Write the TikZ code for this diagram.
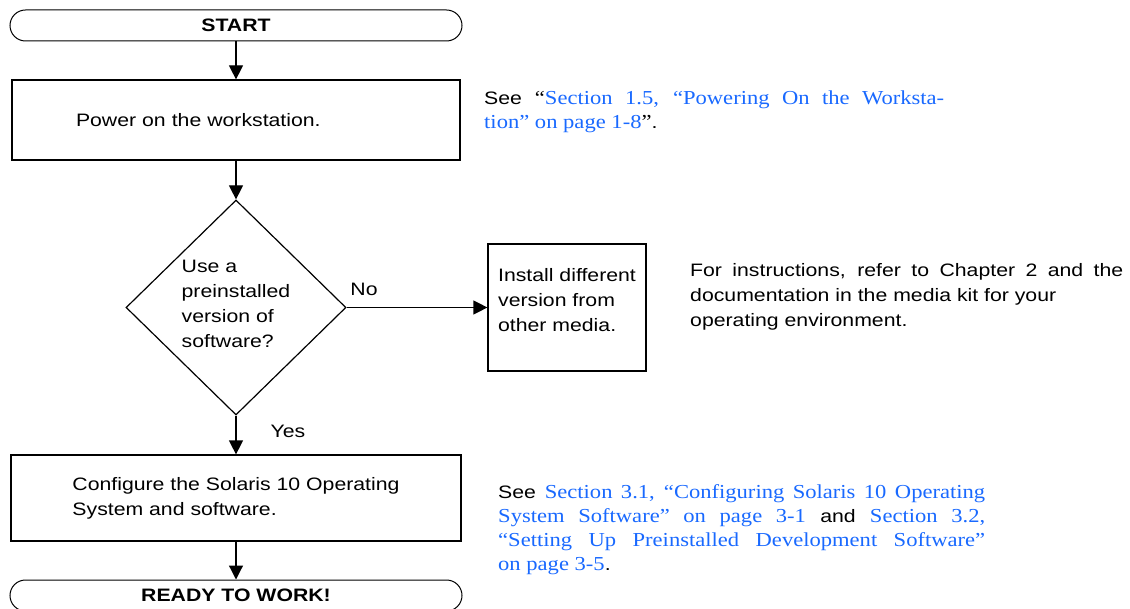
\documentclass[tikz,border=0pt]{standalone}
\usepackage{fontspec}
\setmainfont{Liberation Sans}[FakeStretch=1.18]
\newfontfamily\linkfont{Liberation Serif}[FakeStretch=1.14,Scale=1.1]
\usetikzlibrary{shapes.geometric,arrows.meta}
\definecolor{linkblue}{RGB}{25,105,255}
\newcommand{\lnk}[1]{{\linkfont\color{linkblue}#1}}

\begin{document}
\fontsize{18}{25}\selectfont
\begin{tikzpicture}[x=1pt,y=-1pt,term/.style={draw,line width=1pt,rounded corners=15.5pt,minimum width=452pt,minimum height=31pt,inner sep=0pt,font=\bfseries},stepbox/.style={draw,line width=1.2pt,align=left,inner sep=0pt},decide/.style={draw,diamond,line width=1.2pt,align=left,inner sep=0pt,minimum width=220pt,minimum height=215pt},flow/.style={line width=1.2pt,-{Triangle[width=14pt,length=14pt]}},note/.style={anchor=north west,inner sep=0pt,align=justify}]
\def\cx{236};
\useasboundingbox (0,0) rectangle (1130,609);

\node[term] (start) at (\cx,25.5) {START};
\node[stepbox,text width=320pt,inner xsep=64pt,minimum height=80pt] (power) at (\cx,120) {Power on the workstation.};
\draw[flow] (start.south) -- (power.north);

\node[decide] (pre) at (\cx,307.5) {Use a\\preinstalled\\version of\\software?\\[-17pt]};
\draw[flow] (power.south) -- (pre.north);

\node[stepbox,minimum width=158pt,minimum height=127pt] (inst) at (567,307.5) {Install different\\version from\\other media.\\[-9pt]};
\draw[flow] (pre.east) -- (inst.west);
\node (no) at (364,289) {No};

\node[stepbox,minimum width=450pt,minimum height=86pt] (conf) at (\cx,498) {Configure the Solaris 10 Operating\\System and software.};
\draw[flow] (pre.south) -- (conf.north);
\node (yes) at (288,431) {Yes};

\node[term] (ready) at (\cx,595.5) {READY TO WORK!};
\draw[flow] (conf.south) -- (ready.north);

% side notes
\node[note,text width=460pt,font=\fontsize{18}{24}\selectfont] (seepow) at (484,91) {See {\linkfont\textquotedblleft}\lnk{Section 1.5, \textquotedblleft Powering On the Worksta-}\linebreak\lnk{tion\textquotedblright{} on page 1-8}{\linkfont\textquotedblright}.};
\node[note,text width=433pt] (seeinst) at (690,263) {For instructions, refer to Chapter 2 and the\linebreak documentation in the media kit for your\\operating environment.};
\node[note,text width=487pt,font=\fontsize{18}{24}\selectfont] (seeconf) at (498,484) {See \lnk{Section 3.1, \textquotedblleft Configuring Solaris 10 Operating}\linebreak\lnk{System Software\textquotedblright{} on page 3-1} and \lnk{Section 3.2,}\linebreak\lnk{\textquotedblleft Setting Up Preinstalled Development Software\textquotedblright}\linebreak\lnk{on page 3-5}.};
\end{tikzpicture}
\end{document}
